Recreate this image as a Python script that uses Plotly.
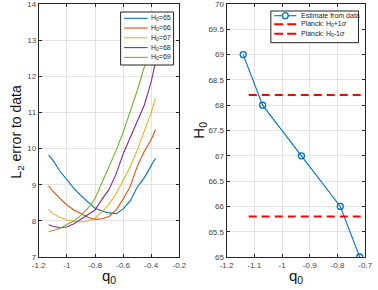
import plotly.graph_objects as go

# ---- Left panel data: L2 error vs q0 for several H0 values ----
q0_grid = [-1.13, -1.10, -1.05, -1.00, -0.95, -0.90, -0.85, -0.80, -0.75,
           -0.70, -0.65, -0.60, -0.55, -0.50, -0.45, -0.40, -0.37]
err_h65 = [9.82, 9.68, 9.38, 9.13, 8.90, 8.70, 8.52, 8.35, 8.27, 8.22, 8.20,
           8.33, 8.55, 8.93, 9.19, 9.52, 9.73]
err_h66 = [8.97, 8.82, 8.62, 8.44, 8.30, 8.19, 8.10, 8.04, 8.06, 8.12, 8.30,
           8.60, 8.95, 9.50, 9.92, 10.25, 10.52]
err_h67 = [8.32, 8.20, 8.10, 8.03, 7.99, 7.97, 7.99, 8.08, 8.25, 8.47, 8.75,
           9.13, 9.50, 9.95, 10.45, 11.00, 11.39]
err_h68 = [7.89, 7.85, 7.81, 7.83, 7.92, 8.05, 8.17, 8.30, 8.60, 8.87, 9.30,
           9.85, 10.30, 10.75, 11.20, 11.85, 12.40]
err_h69 = [7.70, 7.73, 7.79, 7.90, 8.00, 8.15, 8.35, 8.62, 9.05, 9.48, 9.95,
           10.45, 11.00, 11.60, 12.25, 12.90, 13.30]
left_names = ["H<sub>0</sub>=65", "H<sub>0</sub>=66", "H<sub>0</sub>=67",
              "H<sub>0</sub>=68", "H<sub>0</sub>=69"]
left_values = [err_h65, err_h66, err_h67, err_h68, err_h69]
left_colors = ["#0072BD", "#D95319", "#EDB120", "#7E2F8E", "#77AC30"]

# ---- Right panel data: best-fit q0 for each H0 ----
est_q0 = [-1.14, -1.07, -0.93, -0.79, -0.72]
est_h0 = [69, 68, 67, 66, 65]
planck_q0 = [-1.12, -0.70]
planck_plus = 68.2
planck_minus = 65.8
right_names = ["Estimate from data", "Planck: H<sub>0</sub>+1<i>σ</i>",
               "Planck: H<sub>0</sub>-1<i>σ</i>"]

left_xticks = [-1.2, -1.0, -0.8, -0.6, -0.4, -0.2]
left_xticklabels = ["-1.2", "-1", "-0.8", "-0.6", "-0.4", "-0.2"]
left_yticks = [7, 8, 9, 10, 11, 12, 13, 14]
right_xticks = [-1.2, -1.1, -1.0, -0.9, -0.8, -0.7]
right_xticklabels = ["-1.2", "-1.1", "-1", "-0.9", "-0.8", "-0.7"]
right_yticks = [65, 65.5, 66, 66.5, 67, 67.5, 68, 68.5, 69, 69.5, 70]
right_yticklabels = ["65", "65.5", "66", "66.5", "67", "67.5", "68", "68.5", "69", "69.5", "70"]

FONT = "Liberation Sans, Arial, Helvetica, sans-serif"
AX = "#262626"
TICKC = "#444444"
GRID = "#e3e3e3"
W, H = 378, 290
MT, MB = 4, 33
PH = H - MT - MB


def px_x(px):
    return px / W


def px_y(py):
    return (H - MB - py) / PH


fig = go.Figure()
for name, ys, col in zip(left_names, left_values, left_colors):
    fig.add_trace(go.Scatter(x=q0_grid, y=ys, mode="lines", name=name,
                             line=dict(color=col, width=1.1),
                             xaxis="x", yaxis="y", showlegend=False))

fig.add_trace(go.Scatter(x=est_q0, y=est_h0, mode="lines+markers",
                         name=right_names[0],
                         line=dict(color="#0072BD", width=1.1),
                         marker=dict(symbol="circle-open", size=6, color="#0072BD",
                                     line=dict(width=1.3, color="#0072BD")),
                         xaxis="x2", yaxis="y2", showlegend=False))
fig.add_trace(go.Scatter(x=planck_q0, y=[planck_plus] * len(planck_q0), mode="lines",
                         name=right_names[1],
                         line=dict(color="#FF0000", width=2, dash="8px,5px"),
                         xaxis="x2", yaxis="y2", showlegend=False))
fig.add_trace(go.Scatter(x=planck_q0, y=[planck_minus] * len(planck_q0), mode="lines",
                         name=right_names[2],
                         line=dict(color="#FF0000", width=2, dash="8px,5px"),
                         xaxis="x2", yaxis="y2", showlegend=False))

axcommon = dict(showline=True, linecolor=AX, linewidth=1, mirror="ticks",
                ticks="inside", ticklen=3, tickcolor=AX, showgrid=True,
                gridcolor=GRID, gridwidth=1, zeroline=False,
                ticklabeloverflow="allow",
                tickfont=dict(family=FONT, size=8, color=TICKC))

shapes = []
annotations = []

# ---- legend for left panel (MATLAB style box) ----
shapes.append(dict(type="rect", xref="paper", yref="paper",
                   x0=px_x(118), x1=px_x(173), y0=px_y(65), y1=px_y(12),
                   fillcolor="white", line=dict(color="#222", width=1), layer="above"))
left_item_y = [18.3, 28.0, 37.8, 47.6, 57.4]
for name, col, yy in zip(left_names, left_colors, left_item_y):
    shapes.append(dict(type="line", xref="paper", yref="paper",
                       x0=px_x(121.5), x1=px_x(146), y0=px_y(yy), y1=px_y(yy),
                       line=dict(color=col, width=1.1), layer="above"))
    annotations.append(dict(text=name, xref="paper", yref="paper",
                            x=px_x(147.5), y=px_y(yy), xanchor="left", yanchor="middle",
                            showarrow=False, font=dict(family=FONT, size=7, color="#222")))

# ---- legend for right panel ----
shapes.append(dict(type="rect", xref="paper", yref="paper",
                   x0=px_x(274), x1=px_x(365), y0=px_y(42.7), y1=px_y(11),
                   fillcolor="white", line=dict(color="#222", width=1), layer="above"))
right_item_y = [15.7, 24.3, 33.7]
shapes.append(dict(type="line", xref="paper", yref="paper",
                   x0=px_x(277.5), x1=px_x(300.5), y0=px_y(right_item_y[0]),
                   y1=px_y(right_item_y[0]),
                   line=dict(color="#0072BD", width=1.1), layer="above"))
shapes.append(dict(type="circle", xref="paper", yref="paper",
                   x0=px_x(286), x1=px_x(292), y0=px_y(right_item_y[0] + 3),
                   y1=px_y(right_item_y[0] - 3),
                   fillcolor="white", line=dict(color="#0072BD", width=1.3), layer="above"))
for yy in right_item_y[1:]:
    shapes.append(dict(type="line", xref="paper", yref="paper",
                       x0=px_x(277.5), x1=px_x(300.5), y0=px_y(yy), y1=px_y(yy),
                       line=dict(color="#FF0000", width=2, dash="9px,4px"), layer="above"))
for name, yy in zip(right_names, right_item_y):
    annotations.append(dict(text=name, xref="paper", yref="paper",
                            x=px_x(303.5), y=px_y(yy), xanchor="left", yanchor="middle",
                            showarrow=False, font=dict(family=FONT, size=7, color="#222")))

# ---- axis titles ----
annotations.append(dict(text="q<sub>0</sub>", xref="paper", yref="paper",
                        x=px_x(106), y=px_y(276), xanchor="center", yanchor="middle",
                        showarrow=False, font=dict(family=FONT, size=15, color="#111")))
annotations.append(dict(text="q<sub>0</sub>", xref="paper", yref="paper",
                        x=px_x(300), y=px_y(276), xanchor="center", yanchor="middle",
                        showarrow=False, font=dict(family=FONT, size=15, color="#111")))
annotations.append(dict(text="L<sub>2</sub> error to data", xref="paper", yref="paper",
                        x=px_x(10), y=px_y(132), xanchor="center", yanchor="middle",
                        textangle=-90, showarrow=False,
                        font=dict(family=FONT, size=14, color="#111")))
annotations.append(dict(text="H<sub>0</sub>", xref="paper", yref="paper",
                        x=px_x(199), y=px_y(130), xanchor="center", yanchor="middle",
                        textangle=-90, showarrow=False,
                        font=dict(family=FONT, size=15, color="#111")))

fig.update_layout(
    width=W, height=H,
    margin=dict(l=0, r=0, t=MT, b=MB),
    paper_bgcolor="white", plot_bgcolor="white",
    font=dict(family=FONT, color=AX),
    showlegend=False,
    xaxis=dict(domain=[33 / W, 179 / W], range=[-1.2, -0.2],
               tickvals=left_xticks, ticktext=left_xticklabels,
               anchor="y", **axcommon),
    yaxis=dict(domain=[0, 1], range=[7, 14], tickvals=left_yticks,
               anchor="x", **axcommon),
    xaxis2=dict(domain=[228 / W, 372 / W], range=[-1.2, -0.7],
                tickvals=right_xticks, ticktext=right_xticklabels,
                anchor="y2", **axcommon),
    yaxis2=dict(domain=[0, 1], range=[65, 70], tickvals=right_yticks,
                ticktext=right_yticklabels,
                anchor="x2", **axcommon),
    shapes=shapes,
    annotations=annotations,
)

fig.write_html("out.html",
               config={"displayModeBar": False},
               post_script="document.body.style.margin='0px';"
                           "document.body.style.overflow='hidden';")
